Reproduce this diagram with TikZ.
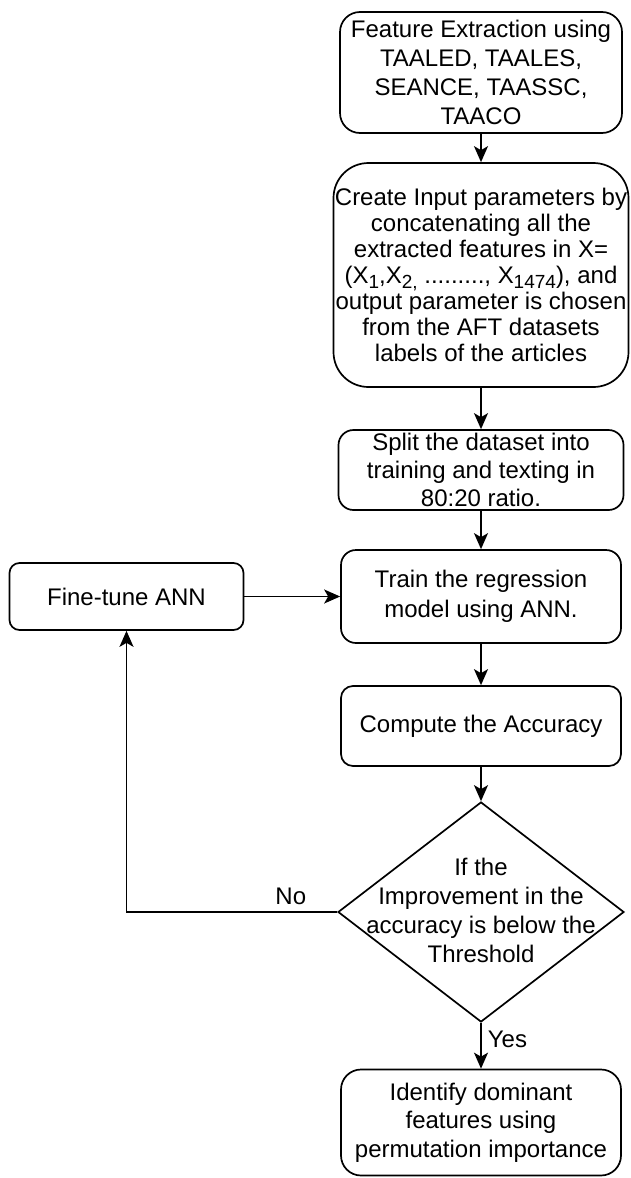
\documentclass[tikz,border=0pt]{standalone}
\usepackage{fontspec}
\setmainfont{Liberation Sans}
\usetikzlibrary{arrows.meta,shapes.geometric}
% lowered index set in a slightly reduced size
\newcommand{\lowidx}[1]{\raisebox{-5pt}{\fontsize{19}{19}\selectfont #1}}
\begin{document}
\begin{tikzpicture}[x=1pt,y=-1pt,
  every node/.style={font=\fontsize{24}{29}\selectfont},
  box/.style={draw, line width=1.7pt, align=center, inner sep=0pt},
  decision/.style={draw, diamond, line width=1.7pt, inner sep=0pt},
  flow/.style={line width=1.7pt, -{Stealth[length=16pt,width=14pt,inset=4pt]}},
  lbl/.style={inner sep=0pt}]
\useasboundingbox (0,0) rectangle (630,1178);

% process boxes of the main column
\node[box, rounded corners=20pt, minimum width=282pt, minimum height=121pt] (extract) at (481,72.5)
  {Feature Extraction using\\TAALED, TAALES,\\SEANCE, TAASSC,\\TAACO};
\node[box, rounded corners=35pt, minimum width=295pt, minimum height=224pt,
      font=\fontsize{24}{26}\selectfont] (input) at (481,275)
  {Create Input parameters by\\concatenating all the\\extracted features in X=\\(X\lowidx{1},X\lowidx{2,} ........., X\lowidx{1474}), and\\output parameter is chosen\\from the AFT datasets\\labels of the articles};
\node[box, rounded corners=15pt, minimum width=285pt, minimum height=80pt,
      font=\fontsize{24}{28}\selectfont] (split) at (481,470)
  {Split the dataset into\\training and texting in\\80:20 ratio.};
\node[box, rounded corners=15pt, minimum width=280pt, minimum height=93pt,
      font=\fontsize{24}{30}\selectfont] (train) at (481,596.5)
  {Train the regression\\model using ANN.};
\node[box, rounded corners=12pt, minimum width=280pt, minimum height=80pt] (compute) at (481,726)
  {Compute the Accuracy};
\node[decision, minimum width=286pt, minimum height=220pt] (dec) at (481,912) {};
\node[align=center, inner sep=0pt] (dectext) at (481,910)
  {If the\\Improvement in the\\accuracy is below the\\Threshold};
\node[box, rounded corners=20pt, minimum width=280pt, minimum height=106pt,
      font=\fontsize{24}{28.5}\selectfont] (final) at (481,1122.5)
  {Identify dominant\\features using\\permutation importance};

% side box of the feedback loop
\node[box, rounded corners=10pt, minimum width=234pt, minimum height=67pt] (fine) at (126.5,596.5)
  {Fine-tune ANN};

% connectors
\draw[flow] (extract.south) -- (input.north);
\draw[flow] (input.south) -- (split.north);
\draw[flow] (split.south) -- (train.north);
\draw[flow] (train.south) -- (compute.north);
\draw[flow] (compute.south) -- (dec.north);
\draw[flow] (fine.east) -- (train.west);
\draw[flow] (dec.west) -| node[pos=0.11, above=6pt, lbl] {No} (fine.south);
\draw[flow] (dec.south) -- node[pos=0.36, right=6pt, lbl] {Yes} (final.north);
\end{tikzpicture}
\end{document}
